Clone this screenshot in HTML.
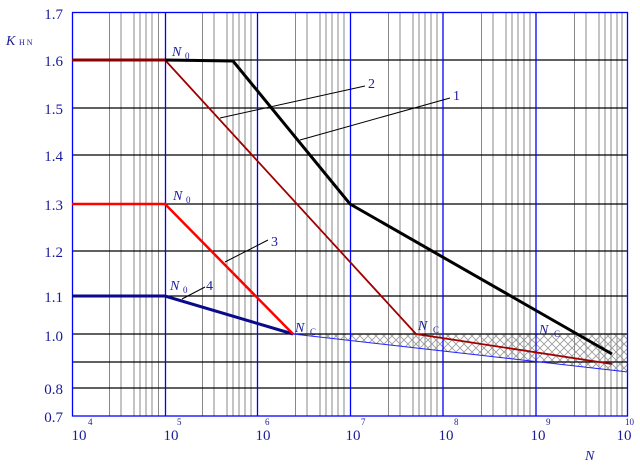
<!DOCTYPE html>
<html><head><meta charset="utf-8"><style>
html,body{margin:0;padding:0;background:#fff;}
svg{display:block;font-family:"Liberation Serif",serif;}
</style></head><body>
<svg width="640" height="465" viewBox="0 0 640 465" xmlns="http://www.w3.org/2000/svg">
<defs>
<pattern id="h" width="8" height="8" patternUnits="userSpaceOnUse">
<path d="M0,0L8,8M8,0L0,8" stroke="#999" stroke-width="0.8"/>
</pattern>
<clipPath id="c"><rect x="72" y="12" width="556" height="404"/></clipPath>
</defs>
<polygon points="293,334 628,334 628,372" fill="url(#h)"/>
<g id="minor" stroke="#888" stroke-width="1">
<script>/* none */</script>
</g>
<g stroke="#888" stroke-width="1">
<!-- minor lines -->
<path d="M109.5,12V416M121,12V416M134,12V416M140,12V416M146,12V416M152,12V416M158.5,12V416
M202.5,12V416M214,12V416M227,12V416M233,12V416M239,12V416M245,12V416M251,12V416
M295.5,12V416M307,12V416M320,12V416M326,12V416M332,12V416M338,12V416M344,12V416
M388.5,12V416M400,12V416M413,12V416M419,12V416M425,12V416M431,12V416M437,12V416
M481.5,12V416M493,12V416M506,12V416M512,12V416M518,12V416M524,12V416M530,12V416
M574.5,12V416M586,12V416M599,12V416M605,12V416M611,12V416M617,12V416M622,12V416"/>
</g>
<g stroke="#000" stroke-width="1.2">
<path d="M72,60H628M72,108H628M72,155H628M72,204H628M72,251H628M72,296H628M72,334H628M72,362H628M72,388H628"/>
</g>
<g stroke="#00f" stroke-width="1.3" fill="none">
<path d="M165.5,12V416M257.5,12V416M350.5,12V416M443,12V416M536,12V416"/>
<rect x="72.5" y="12.5" width="555" height="403.5"/>
</g>
<!-- series -->
<polyline points="293,334 628,372" stroke="#22f" stroke-width="1" fill="none"/>
<polyline points="72,296 165,296 293,334" stroke="#0a0a8a" stroke-width="3" fill="none"/>
<polyline points="72,204 165,204 293,334" stroke="#f00" stroke-width="2.5" fill="none"/>
<polyline points="72,60 165,60" stroke="#8b0000" stroke-width="3" fill="none"/>
<polyline points="165,60 416,334 612,364" stroke="#a00000" stroke-width="1.8" fill="none"/>
<polyline points="165,60 233,61 350,204 612,354" stroke="#000" stroke-width="3" fill="none"/>
<!-- leaders -->
<g stroke="#000" stroke-width="1">
<path d="M220,118L365,86M300,140L450,98M225,262L268,240M182,299L205,287"/>
</g>
<g fill="#1a1a9a" font-size="14">
<text x="368" y="88">2</text>
<text x="453" y="100">1</text>
<text x="271" y="246">3</text>
<text x="206" y="290">4</text>
<text x="172" y="56" font-style="italic">N</text><text x="185" y="59" font-size="9">0</text>
<text x="173" y="200" font-style="italic">N</text><text x="186" y="203" font-size="9">0</text>
<text x="170" y="290" font-style="italic">N</text><text x="183" y="293" font-size="9">0</text>
<text x="295" y="332" font-style="italic">N</text><text x="310" y="335" font-size="9">C</text>
<text x="418" y="330" font-style="italic">N</text><text x="433" y="333" font-size="9">C</text>
<text x="539" y="334" font-style="italic">N</text><text x="554" y="337" font-size="9">C</text>
<text x="6" y="45" font-style="italic" font-size="14">K</text><text x="19" y="45" font-size="8">H N</text>
<text x="585" y="460" font-style="italic">N</text>
</g>
<g fill="#1a1a9a" font-size="15" text-anchor="end">
<text x="63" y="19">1.7</text>
<text x="63" y="66">1.6</text>
<text x="63" y="114">1.5</text>
<text x="63" y="161">1.4</text>
<text x="63" y="210">1.3</text>
<text x="63" y="257">1.2</text>
<text x="63" y="302">1.1</text>
<text x="63" y="341">1.0</text>
<text x="63" y="394">0.8</text>
<text x="63" y="422">0.7</text>
</g>
<g fill="#1a1a9a" font-size="15" text-anchor="middle">
<text x="79" y="440">10</text><text x="88" y="425" font-size="9" text-anchor="start">4</text>
<text x="171" y="440">10</text><text x="177" y="425" font-size="9" text-anchor="start">5</text>
<text x="263" y="440">10</text><text x="265" y="425" font-size="9" text-anchor="start">6</text>
<text x="353" y="440">10</text><text x="361" y="425" font-size="9" text-anchor="start">7</text>
<text x="446" y="440">10</text><text x="454" y="425" font-size="9" text-anchor="start">8</text>
<text x="538" y="440">10</text><text x="546" y="425" font-size="9" text-anchor="start">9</text>
<text x="624" y="440">10</text><text x="625" y="425" font-size="9" text-anchor="start">10</text>
</g>
</svg>
</body></html>
